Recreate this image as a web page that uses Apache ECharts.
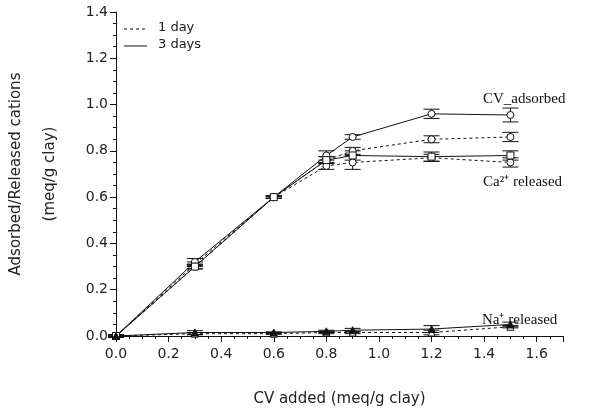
<!DOCTYPE html>
<html>
<head>
<meta charset="utf-8">
<script src="https://cdn.jsdelivr.net/npm/echarts@6/dist/echarts.min.js"></script>
<style>
html,body{margin:0;padding:0;background:#fff;}
#main{width:592px;height:412px;}
</style>
</head>
<body>
<div id="main"></div>
<script>
// CV added (meq/g clay)
var cvAdded = [0.0, 0.3, 0.6, 0.8, 0.9, 1.2, 1.5];

var cvAds1 = [0.0, 0.31, 0.60, 0.76, 0.80, 0.85, 0.86];
var cvAds3 = [0.0, 0.32, 0.60, 0.78, 0.86, 0.96, 0.955];
var ca1 = [0.0, 0.30, 0.60, 0.735, 0.75, 0.77, 0.75];
var ca3 = [0.0, 0.30, 0.60, 0.76, 0.78, 0.775, 0.78];
var na1 = [0.0, 0.01, 0.01, 0.015, 0.015, 0.015, 0.04];
var na3 = [0.0, 0.015, 0.015, 0.02, 0.025, 0.03, 0.05];

// error bar half-widths
var cvAds1Err = [0.005, 0.01, 0.005, 0.015, 0.015, 0.015, 0.02];
var cvAds3Err = [0.005, 0.015, 0.005, 0.02, 0.01, 0.02, 0.03];
var ca1Err = [0.005, 0.01, 0.005, 0.015, 0.03, 0.015, 0.02];
var ca3Err = [0.005, 0.01, 0.005, 0.015, 0.02, 0.02, 0.02];
var na1Err = [0.005, 0.005, 0.003, 0.005, 0.005, 0.01, 0.005];
var na3Err = [0.005, 0.008, 0.003, 0.005, 0.008, 0.015, 0.01];

var xTicks = [0.0, 0.2, 0.4, 0.6, 0.8, 1.0, 1.2, 1.4, 1.6];
var legendNames = ['1 day', '3 days'];

var pairs = function(ys){
	var arr = [];
	for (var i = 0; i < cvAdded.length; i++) {
		arr.push([cvAdded[i], ys[i]]);
	}
	return arr;
};

var errData = function(ys, es){
	var arr = [];
	for (var i = 0; i < cvAdded.length; i++) {
		arr.push([cvAdded[i], ys[i] - es[i], ys[i] + es[i]]);
	}
	return arr;
};

var renderErr = function(params, api){
	var x = api.value(0);
	var lo = api.coord([x, api.value(1)]);
	var hi = api.coord([x, api.value(2)]);
	var w = 8;
	var st = {stroke: '#111', lineWidth: 1};
	return {
		type: 'group',
		children: [
			{type: 'line', shape: {x1: lo[0], y1: lo[1], x2: hi[0], y2: hi[1]}, style: st},
			{type: 'line', shape: {x1: lo[0]-w, y1: lo[1], x2: lo[0]+w, y2: lo[1]}, style: st},
			{type: 'line', shape: {x1: hi[0]-w, y1: hi[1], x2: hi[0]+w, y2: hi[1]}, style: st}
		]
	};
};

var lineSeries = function(name, ys, dashed, symbol, fill){
	return {
		name: name,
		type: 'line',
		data: pairs(ys),
		symbol: symbol,
		symbolSize: 7,
		showSymbol: true,
		lineStyle: {color: '#111', width: 1, type: dashed ? [3, 3] : 'solid'},
		itemStyle: {color: fill ? '#111' : '#fff', borderColor: '#111', borderWidth: 1},
		silent: true,
		z: 3
	};
};

var errSeries = function(ys, es){
	return {
		type: 'custom',
		renderItem: renderErr,
		data: errData(ys, es),
		silent: true,
		z: 2
	};
};

var fontFam = '"DejaVu Sans", sans-serif';
var serifFont = '15px "Liberation Serif", serif';

// line-style key, top left
var keyGraphic = function(i, dashed){
	var y = 29 + i * 17;
	return [
		{type: 'line', shape: {x1: 124, y1: y, x2: 147, y2: y},
			style: {stroke: '#111', lineWidth: 1, lineDash: dashed ? [3, 3] : null}},
		{type: 'text', left: 158, top: y - 8,
			style: {text: legendNames[i], font: '13px ' + fontFam, fill: '#222'}}
	];
};

var option = {
	animation: false,
	backgroundColor: '#fff',
	grid: {left: 110, right: 29, top: 12, bottom: 75},
	xAxis: {
		type: 'value',
		min: 0,
		max: 1.7,
		interval: 0.2,
		name: 'CV added (meq/g clay)',
		nameLocation: 'middle',
		nameGap: 56,
		nameTextStyle: {fontFamily: fontFam, fontSize: 15, color: '#222'},
		axisLine: {lineStyle: {color: '#111', width: 1}},
		axisTick: {show: true, length: 6, lineStyle: {color: '#111'}},
		minorTick: {show: true, splitNumber: 4, length: 3, lineStyle: {color: '#111'}},
		splitLine: {show: false},
		axisLabel: {
			fontFamily: fontFam, fontSize: 14, color: '#222', margin: 11,
			formatter: function(v){
				for (var i = 0; i < xTicks.length; i++) {
					if (Math.abs(xTicks[i] - v) < 1e-6) return xTicks[i].toFixed(1);
				}
				return '';
			}
		}
	},
	yAxis: {
		type: 'value',
		min: 0,
		max: 1.4,
		interval: 0.2,
		name: 'Adsorbed/Released cations\n\n(meq/g clay)',
		nameLocation: 'middle',
		nameGap: 57,
		nameTextStyle: {fontFamily: fontFam, fontSize: 15, color: '#222', lineHeight: 17},
		axisLine: {show: true, lineStyle: {color: '#111', width: 1}},
		axisTick: {show: true, length: 6, lineStyle: {color: '#111'}},
		minorTick: {show: true, splitNumber: 4, length: 3, lineStyle: {color: '#111'}},
		splitLine: {show: false},
		axisLabel: {
			fontFamily: fontFam, fontSize: 14, color: '#222', margin: 8,
			formatter: function(v){ return v.toFixed(1); }
		}
	},
	graphic: [
		{type: 'text', left: 483, top: 92, style: {text: 'CV_adsorbed', font: serifFont, fill: '#111'}},
		{type: 'text', left: 483, top: 175, style: {text: 'Ca²⁺ released', font: serifFont, fill: '#111'}},
		{type: 'text', left: 482, top: 313, style: {text: 'Na⁺ released', font: serifFont, fill: '#111'}}
	].concat(keyGraphic(0, true), keyGraphic(1, false)),
	series: [
		lineSeries('cv1', cvAds1, true, 'circle', false),
		lineSeries('cv3', cvAds3, false, 'circle', false),
		lineSeries('ca1', ca1, true, 'circle', false),
		lineSeries('ca3', ca3, false, 'rect', false),
		lineSeries('na1', na1, true, 'triangle', false),
		lineSeries('na3', na3, false, 'triangle', true),
		errSeries(cvAds1, cvAds1Err),
		errSeries(cvAds3, cvAds3Err),
		errSeries(ca1, ca1Err),
		errSeries(ca3, ca3Err),
		errSeries(na1, na1Err),
		errSeries(na3, na3Err)
	]
};

var chart = echarts.init(document.getElementById('main'));
chart.setOption(option);
</script>
</body>
</html>
